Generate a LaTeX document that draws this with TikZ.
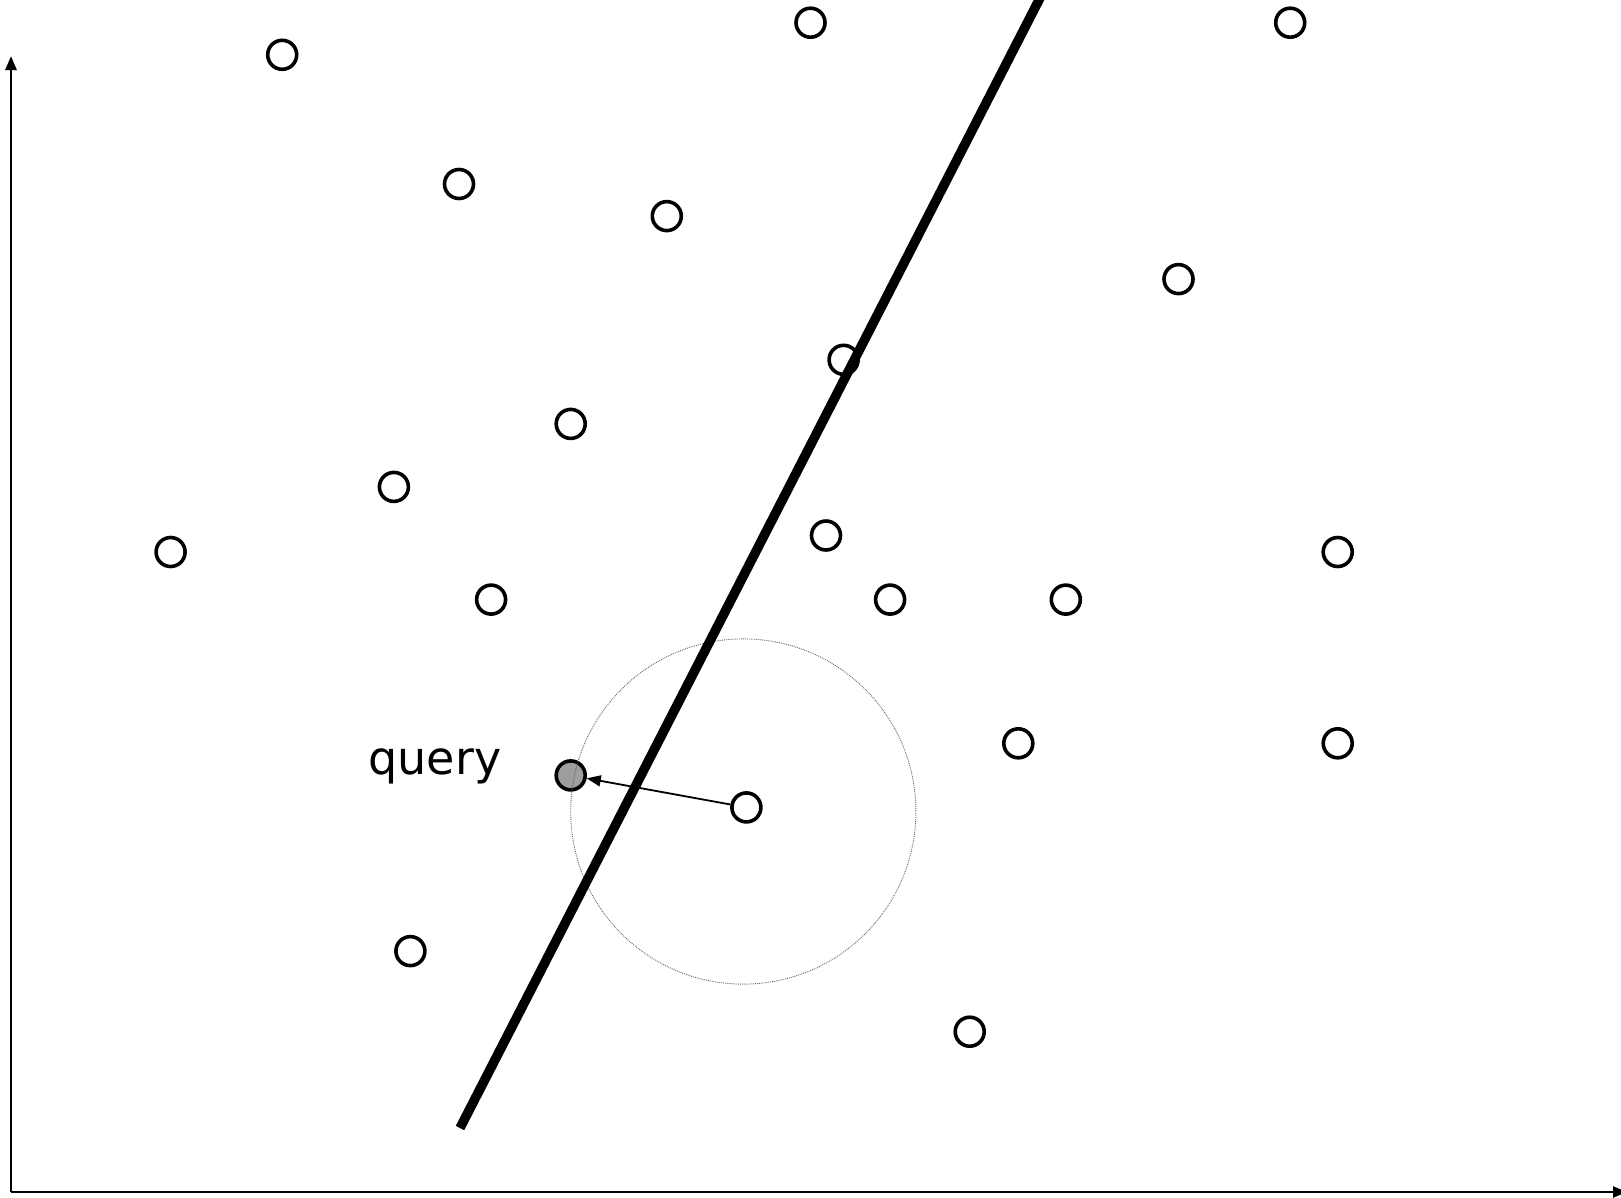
\documentclass[tikz,border=0pt]{standalone}
\usepackage{fontspec}
\setmainfont{DejaVu Sans}
\usetikzlibrary{arrows.meta}
\begin{document}
\begin{tikzpicture}[x=1pt,y=-1pt,
  pt/.style={circle,draw=black,line width=3.6pt,fill=white,minimum size=29pt,inner sep=0pt},
  qpt/.style={pt,fill=black!38},
  axis/.style={line width=2.6pt,-{Triangle[length=14pt,width=11pt]}},
  sep/.style={line width=9.5pt},
  ball/.style={draw=black!60,line width=0.9pt,densely dotted}]
\useasboundingbox (0,0) rectangle (1621,1197);
\coordinate (o) at (11,1192);
\coordinate (ytop) at (11,56);
\coordinate (xend) at (1627,1192);
\draw[axis] (o) -- (ytop);
\draw[axis] (o) -- (xend);
\node[pt] (p1) at (282.2,54.8) {};
\node[pt] (p2) at (810.5,22.7) {};
\node[pt] (p3) at (1290.2,22.7) {};
\node[pt] (p4) at (459.0,184.0) {};
\node[pt] (p5) at (666.8,216.1) {};
\node[pt] (p6) at (1178.5,279.1) {};
\node[pt] (p7) at (843.6,359.8) {};
\node[pt] (p8) at (570.7,423.9) {};
\node[pt] (p9) at (393.9,486.9) {};
\node[pt] (p10) at (170.6,552.0) {};
\node[pt] (p11) at (491.1,599.6) {};
\node[pt] (p12) at (826.0,535.5) {};
\node[pt] (p13) at (890.1,599.6) {};
\node[pt] (p14) at (1065.8,599.6) {};
\node[pt] (p15) at (1337.7,552.0) {};
\node[pt] (p16) at (1018.3,743.3) {};
\node[pt] (p17) at (1337.7,743.3) {};
\node[pt] (nn) at (746.4,807.4) {};
\node[qpt] (q) at (570.7,775.4) {};
\node[pt] (p20) at (410.4,951.1) {};
\node[pt] (p21) at (969.7,1031.7) {};
\node (ql) at (435,766) {\fontsize{46}{54}\selectfont query};
\draw[line width=1.8pt,-{Triangle[length=14pt,width=11pt]}] (nn) -- (q);
\draw[ball] (743.3,811.5) circle (172.6);
\coordinate (l1) at (460,1128);
\coordinate (l2) at (1040,-2);
\draw[sep] (l1) -- (l2);
\end{tikzpicture}
\end{document}
